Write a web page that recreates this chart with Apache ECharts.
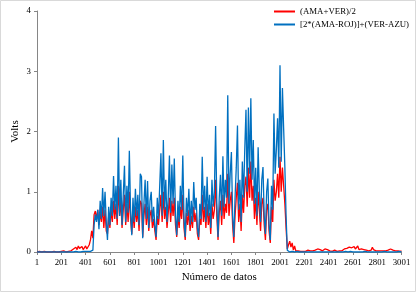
<!DOCTYPE html>
<html><head><meta charset="utf-8">
<script src="https://cdn.jsdelivr.net/npm/echarts@6/dist/echarts.min.js"></script>
<style>html,body{margin:0;padding:0;background:#fff}#c{width:416px;height:292px}</style>
</head><body><div id="c"></div>
<script>
// sampled every 10 data points (sample number = 1 + 10*i)
const sampleCount = 301;
const categories = [];
for (let i = 0; i < sampleCount; i++) categories.push(String(1 + 10 * i));

const xTickLabels = ['1','201','401','601','801','1001','1201','1401','1601','1801','2001','2201','2401','2601','2801','3001'];
const yTickLabels = [0, 1, 2, 3, 4];
const seriesNames = ['(AMA+VER)/2', '[2*(AMA-ROJ)]+(VER-AZU)'];

const redValues = [
  0,0,0.01,0,0,0,0.01,0,0,0.01,
  0,0.01,0,0,0.01,0,0,0.01,0,0,
  0.01,0,0.02,0.01,0,0.02,0.01,0.03,0.02,0.04,
  0.05,0.03,0.08,0.04,0.1,0.06,0.05,0.09,0.04,0.07,
  0.1,0.05,0.08,0.12,0.2,0.35,0.23,
  0.62,0.68,0.55,0.7,0.45,0.65,0.5,0.75,0.4,0.7,
  0.35,0.3,0.6,0.4,0.7,0.5,0.85,0.55,0.8,0.45,
  1.1,0.6,0.85,0.4,0.7,0.95,0.45,0.8,0.5,1.0,
  0.55,0.3,0.65,0.4,0.75,0.5,0.7,0.35,0.85,0.8,
  0.25,0.6,0.8,0.45,0.75,0.35,0.6,0.7,0.4,0.55,
  0.35,0.2,0.6,0.45,0.7,0.95,0.5,1.0,0.55,0.75,
  0.4,0.65,0.9,0.5,0.85,0.6,0.9,0.45,0.25,0.6,
  0.4,0.75,0.55,0.95,0.4,0.2,0.65,0.45,0.7,0.35,
  0.6,0.4,0.75,0.5,0.65,0.3,0.2,0.55,0.45,0.95,
  0.5,0.75,0.4,0.8,0.45,0.65,0.3,0.8,0.55,0.7,
  1.2,0.6,0.2,0.65,0.85,0.45,0.95,0.55,0.8,0.65,
  1.3,0.6,0.85,1.0,0.45,0.15,0.6,0.9,1.15,0.5,
  0.8,0.35,0.95,0.65,1.1,1.25,0.75,1.4,0.9,1.5,
  0.85,1.1,0.55,0.9,0.45,1.0,0.7,0.35,0.8,0.9,
  0.45,0.2,0.7,0.8,0.35,0.15,0.75,0.5,1.2,0.85,
  1.0,1.3,0.9,1.58,1.0,1.4,1.1,0.8,0.4,0.05,
  0.12,0.18,0.08,0.15,0.03,0.1,0.02,0.01,0.02,0.01,
  0.01,0.02,0.01,0.02,0.01,0.01,0.03,0.01,0.02,0.01,
  0.02,0.01,0.03,0.02,0.05,0.02,0.04,0.07,0.02,0.03,
  0.05,0.02,0.04,0.01,0.02,0.03,0.01,0.02,0.03,0.02,
  0.01,0.03,0.02,0.04,0.02,0.03,0.05,0.03,0.06,0.04,
  0.08,0.05,0.07,0.04,0.09,0.05,0.06,0.1,0.04,0.07,
  0.05,0.08,0.04,0.06,0.03,0.05,0.02,0.04,0.03,0.08,
  0.04,0.03,0.02,0.04,0.02,0.03,0.02,0.04,0.02,0.03,
  0.02,0.04,0.03,0.02,0.05,0.02,0.03,0.04,0.02,0.03,
  0.02,0.03,0.01,0.02
];

const blueValues = [
  0,0,0,0,0,0,0,0,0,0,
  0,0,0,0,0,0,0,0,0,0,
  0,0,0,0,0,0,0,0,0,0,
  0,0,0.01,0,0,0.01,0,0,0.01,0,
  0.01,0,0.01,0.02,0.01,0.02,0.03,
  0.45,0.62,0.5,0.7,0.38,0.85,0.55,1.06,0.6,1.0,
  0.5,0.2,0.75,0.45,0.9,0.6,1.26,0.7,1.1,0.55,
  1.9,0.6,1.2,0.45,0.95,1.43,0.5,1.1,0.65,1.68,
  0.7,0.28,0.9,0.5,1.05,0.6,0.95,0.45,1.3,1.25,
  0.23,0.8,1.2,0.55,1.18,0.4,0.85,1.0,0.5,0.75,
  0.45,0.25,0.9,0.55,1.1,1.64,0.6,1.86,0.7,1.2,
  0.5,0.9,1.6,0.65,1.45,0.8,1.55,0.6,0.28,0.85,
  0.5,1.1,0.7,1.6,0.55,0.25,0.9,0.6,1.05,0.45,
  0.85,0.5,1.16,0.7,0.9,0.4,0.25,0.8,0.55,1.58,
  0.7,1.1,0.5,1.25,0.6,0.95,0.4,1.2,0.75,1.0,
  2.09,0.8,0.25,0.9,1.28,0.6,1.59,0.75,1.2,0.9,
  2.6,0.8,1.3,1.66,0.6,0.25,0.9,1.4,2.1,0.7,
  1.2,0.5,1.5,0.9,1.7,2.36,1.0,2.4,1.3,2.55,
  1.2,1.86,0.8,1.4,0.6,1.74,1.0,0.5,1.2,1.41,
  0.6,0.3,1.0,1.22,0.45,0.2,1.1,0.7,2.3,1.3,
  1.7,2.22,1.4,3.1,1.5,2.72,2.05,1.41,0.6,0.03,
  0.01,0,0,0.01,0,0,0,0.01,0,0,
  0,0,0.01,0,0,0,0,0,0.01,0,
  0,0,0,0,0.01,0,0,0,0,0,
  0.01,0,0,0,0,0,0.01,0,0,0,
  0,0,0.01,0,0,0,0,0.01,0,0,
  0,0.01,0,0,0,0,0.01,0,0,0,
  0,0,0,0.01,0,0,0,0,0.01,0,
  0,0,0.01,0,0,0,0,0,0,0.01,
  0,0,0,0,0.01,0,0,0,0.01,0,
  0,0.01,0,0
];

if (redValues.length !== sampleCount || blueValues.length !== sampleCount) {
  throw new Error('length mismatch red=' + redValues.length + ' blue=' + blueValues.length);
}

const chart = echarts.init(document.getElementById('c'), null, {renderer: 'canvas'});
const serif = '"Liberation Serif", "DejaVu Serif", serif';
const axisColor = '#868686';
chart.setOption({
  animation: false,
  backgroundColor: '#fff',
  graphic: [{
    type: 'rect', shape: {x: 0.5, y: 0.5, width: 415, height: 291},
    style: {fill: 'none', stroke: '#d9d9d9', lineWidth: 1}, silent: true
  }],
  legend: {
    orient: 'vertical', left: 269, top: 1, itemGap: 2,
    icon: 'rect', itemWidth: 21, itemHeight: 2,
    textStyle: {fontFamily: serif, fontSize: 8.8, color: '#000', lineHeight: 11},
    data: seriesNames
  },
  grid: {left: 37, right: 14.5, top: 11, bottom: 40, containLabel: false, outerBoundsMode: 'none'},
  xAxis: {
    type: 'category', data: categories, boundaryGap: false,
    name: 'Número de datos', nameLocation: 'middle', nameGap: 20, nameMoveOverlap: false,
    nameTextStyle: {fontFamily: serif, fontSize: 11, color: '#000'},
    axisLine: {lineStyle: {color: axisColor, width: 1}},
    axisTick: {show: true, interval: (idx, v) => xTickLabels.includes(v), length: 3, lineStyle: {color: axisColor}},
    axisLabel: {interval: (idx, v) => xTickLabels.includes(v), fontFamily: serif, fontSize: 8.8, color: '#000', margin: 6},
    splitLine: {show: false}
  },
  yAxis: {
    type: 'value', min: yTickLabels[0], max: yTickLabels[yTickLabels.length - 1], interval: 1,
    name: 'Volts', nameLocation: 'middle', nameGap: 16, nameRotate: 90, nameMoveOverlap: false,
    nameTextStyle: {fontFamily: serif, fontSize: 11, color: '#000'},
    axisLine: {show: true, lineStyle: {color: axisColor, width: 1}},
    axisTick: {show: true, length: 3, lineStyle: {color: axisColor}},
    axisLabel: {fontFamily: serif, fontSize: 8.8, color: '#000', margin: 6},
    splitLine: {show: false}
  },
  series: [
    {name: seriesNames[0], type: 'line', data: redValues, symbol: 'none',
     lineStyle: {color: '#FF0000', width: 1.3}, itemStyle: {color: '#FF0000'}},
    {name: seriesNames[1], type: 'line', data: blueValues, symbol: 'none',
     lineStyle: {color: '#0070C0', width: 1.3}, itemStyle: {color: '#0070C0'}}
  ]
});
</script></body></html>
